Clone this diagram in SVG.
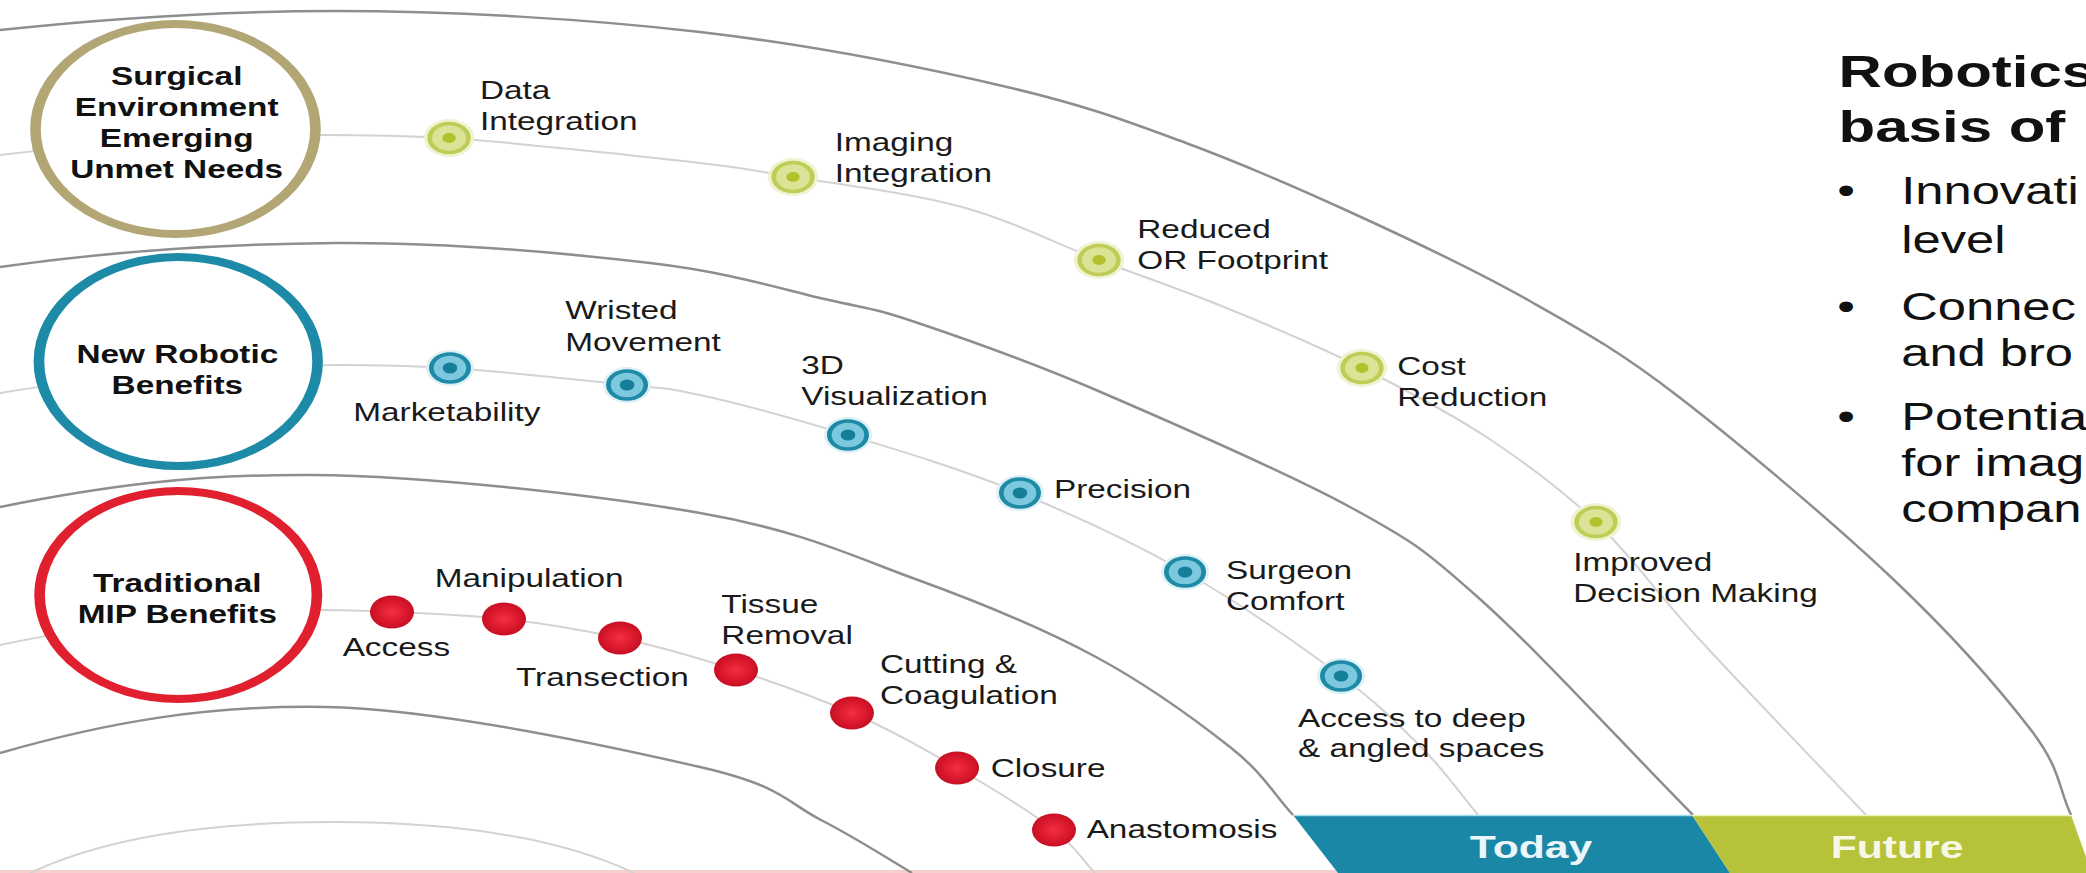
<svg xmlns="http://www.w3.org/2000/svg" width="2086" height="873" viewBox="0 0 2086 873">
<defs>
<radialGradient id="redGrad" cx="50%" cy="50%" r="50%">
<stop offset="0" stop-color="#f3303f"/>
<stop offset="0.6" stop-color="#dc1a2e"/>
<stop offset="1" stop-color="#c70f24"/>
</radialGradient>
</defs>
<style>
.dark{fill:none;stroke:#8e8e8e;stroke-width:2.5}
.light{fill:none;stroke:#d2d2d2;stroke-width:2}
.big{fill:#fff;stroke-width:8}
.bt{font-family:"Liberation Sans",Arial,sans-serif;font-weight:bold;font-size:25px;fill:#111;text-anchor:middle}
.lb{font-family:"Liberation Sans",Arial,sans-serif;font-size:25px;fill:#1a1a1a}
.gh{fill:#eef3d2}
.gr{fill:#dbe496;stroke:#bfcc55;stroke-width:3.5}
.gc{fill:#b2c12c}
.bh{fill:#dcf0f6}
.br{fill:#7cc8de;stroke:#1e8aa6;stroke-width:3.5}
.bc{fill:#157e99}
.rd{fill:url(#redGrad)}
.hd{font-family:"Liberation Sans",Arial,sans-serif;font-weight:bold;font-size:45px;fill:#111}
.bl{font-family:"Liberation Sans",Arial,sans-serif;font-size:38px;fill:#111}
.band{font-family:"Liberation Sans",Arial,sans-serif;font-weight:bold;font-size:32px;text-anchor:middle}
</style>
<rect x="0" y="0" width="2086" height="873" fill="#fff"/>
<rect x="0" y="870" width="1340" height="3" fill="#f8cfcf"/>
<g id="connectors">
<path class="dark" d="M0,30 C112,18 218,11 335,11 S588,19 700,32 S926,68 1007,87 S1129,122 1186,143 S1293,186 1350,212 S1473,269 1528,300 S1618,350 1679,397 S1835,524 1894,580 S2001,691 2031,730 S2058,787 2071,815"/>
<path class="light" d="M0,155 C107,142 245,135 321,135 C364,135 410,136 449,138 S643,156.5 700,163 S749,170 793,177 S911,193 962,207 S1054.5,243 1099,260 S1185,291 1229,309 S1318,346 1362,368 S1452,414 1491,440 S1561,489 1596,522 S1655,591 1700,640 S1811,757 1866,815"/>
<path class="dark" d="M0,267 C112,251 227,244 335,243 S568,253.5 650,263 S784,290 829,300 S873.5,308 918,323 S1024,359 1096,390 S1286,472 1350,507 S1424,549 1481,600 S1622,743 1693,815"/>
<path class="light" d="M0,393 C113,374 265,365 340,365 C376,365 415,366 450,368 S585,380.5 627,385 S663,387 700,395 S795,419 848,435 S964,470 1020,493 S1131.5,541.5 1185,572 S1302,647 1341,676 S1398,724 1421,747 S1459,792 1478,815"/>
<path class="dark" d="M0,507 C104,486 195,474 312,475 S599,495.5 700,513 S852,556 918,580 S1044,629 1096,657 S1197,721 1230,747 S1272,792 1293,815"/>
<path class="light" d="M0,645 C107,622 250,610 320,610 C345,610 370,611 392,612 S466,615 504,619 S581,629.5 620,638 S697,657.5 736,670 S815,697 852,713 S923,748.5 957,768 S1031,812.5 1054,830 S1081,859 1095,873"/>
<path class="dark" d="M0,753 C108,722 208,705 325,707 S617,748 700,767 S786,802 821,820 S882,855 912,873"/>
<path class="light" d="M30,873 C110,835 220,822 332,822 S554,835 634,873"/>
</g>
<g transform="scale(1.3333,1)">
<g id="surgical-environment">
<circle cx="131.6" cy="129" r="105" class="big" stroke="#b3a675"/>
<text class="bt" x="132.5" y="85">Surgical</text>
<text class="bt" x="132.5" y="116">Environment</text>
<text class="bt" x="132.5" y="147">Emerging</text>
<text class="bt" x="132.5" y="178">Unmet Needs</text>
</g>
<g id="new-robotic-benefits">
<circle cx="133.7" cy="361.5" r="104.5" class="big" stroke="#1d8ba8"/>
<text class="bt" x="133" y="363">New Robotic</text>
<text class="bt" x="133" y="394">Benefits</text>
</g>
<g id="traditional-mip-benefits">
<circle cx="133.7" cy="595" r="104" class="big" stroke="#e1202f"/>
<text class="bt" x="133" y="592">Traditional</text>
<text class="bt" x="133" y="623">MIP Benefits</text>
</g>
<g id="data-integration">
<circle cx="336.8" cy="138" r="19" class="gh"/><circle cx="336.8" cy="138" r="14.5" class="gr"/><circle cx="336.8" cy="138" r="5" class="gc"/>
<text class="lb" x="360" y="99">Data</text><text class="lb" x="360" y="130">Integration</text>
</g>
<g id="imaging-integration">
<circle cx="594.8" cy="177" r="19" class="gh"/><circle cx="594.8" cy="177" r="14.5" class="gr"/><circle cx="594.8" cy="177" r="5" class="gc"/>
<text class="lb" x="626" y="151">Imaging</text><text class="lb" x="626" y="182">Integration</text>
</g>
<g id="reduced-or-footprint">
<circle cx="824.3" cy="260" r="19" class="gh"/><circle cx="824.3" cy="260" r="14.5" class="gr"/><circle cx="824.3" cy="260" r="5" class="gc"/>
<text class="lb" x="853" y="238">Reduced</text><text class="lb" x="853" y="269">OR Footprint</text>
</g>
<g id="cost-reduction">
<circle cx="1021.5" cy="368" r="19" class="gh"/><circle cx="1021.5" cy="368" r="14.5" class="gr"/><circle cx="1021.5" cy="368" r="5" class="gc"/>
<text class="lb" x="1048" y="375">Cost</text><text class="lb" x="1048" y="406">Reduction</text>
</g>
<g id="improved-decision-making">
<circle cx="1197" cy="522" r="19" class="gh"/><circle cx="1197" cy="522" r="14.5" class="gr"/><circle cx="1197" cy="522" r="5" class="gc"/>
<text class="lb" x="1180" y="571">Improved</text><text class="lb" x="1180" y="602">Decision Making</text>
</g>
<g id="marketability">
<circle cx="337.5" cy="368" r="18" class="bh"/><circle cx="337.5" cy="368" r="14" class="br"/><circle cx="337.5" cy="368" r="5.5" class="bc"/>
<text class="lb" x="265" y="421">Marketability</text>
</g>
<g id="wristed-movement">
<circle cx="470.3" cy="385" r="18" class="bh"/><circle cx="470.3" cy="385" r="14" class="br"/><circle cx="470.3" cy="385" r="5.5" class="bc"/>
<text class="lb" x="424" y="319">Wristed</text><text class="lb" x="424" y="351">Movement</text>
</g>
<g id="visualization-3d">
<circle cx="636" cy="435" r="18" class="bh"/><circle cx="636" cy="435" r="14" class="br"/><circle cx="636" cy="435" r="5.5" class="bc"/>
<text class="lb" x="601" y="374">3D</text><text class="lb" x="601" y="405">Visualization</text>
</g>
<g id="precision">
<circle cx="765" cy="493" r="18" class="bh"/><circle cx="765" cy="493" r="14" class="br"/><circle cx="765" cy="493" r="5.5" class="bc"/>
<text class="lb" x="790.5" y="498">Precision</text>
</g>
<g id="surgeon-comfort">
<circle cx="888.8" cy="572" r="18" class="bh"/><circle cx="888.8" cy="572" r="14" class="br"/><circle cx="888.8" cy="572" r="5.5" class="bc"/>
<text class="lb" x="919.5" y="579">Surgeon</text><text class="lb" x="919.5" y="610">Comfort</text>
</g>
<g id="access-deep-spaces">
<circle cx="1005.8" cy="676" r="18" class="bh"/><circle cx="1005.8" cy="676" r="14" class="br"/><circle cx="1005.8" cy="676" r="5.5" class="bc"/>
<text class="lb" x="973.5" y="727">Access to deep</text><text class="lb" x="973.5" y="757">&amp; angled spaces</text>
</g>
<g id="access">
<circle cx="294" cy="612" r="16.5" class="rd"/>
<text class="lb" x="257" y="656">Access</text>
</g>
<g id="manipulation">
<circle cx="378" cy="619" r="16.5" class="rd"/>
<text class="lb" x="326" y="587">Manipulation</text>
</g>
<g id="transection">
<circle cx="465" cy="638" r="16.5" class="rd"/>
<text class="lb" x="387" y="686">Transection</text>
</g>
<g id="tissue-removal">
<circle cx="552" cy="670" r="16.5" class="rd"/>
<text class="lb" x="541" y="613">Tissue</text><text class="lb" x="541" y="644">Removal</text>
</g>
<g id="cutting-coagulation">
<circle cx="639" cy="713" r="16.5" class="rd"/>
<text class="lb" x="660" y="673">Cutting &amp;</text><text class="lb" x="660" y="704">Coagulation</text>
</g>
<g id="closure">
<circle cx="717.8" cy="768" r="16.5" class="rd"/>
<text class="lb" x="743" y="777">Closure</text>
</g>
<g id="anastomosis">
<circle cx="790.5" cy="830" r="16.5" class="rd"/>
<text class="lb" x="815" y="838">Anastomosis</text>
</g>
<g id="robotics-text">
<text class="hd" x="1379" y="87">Robotics</text>
<text class="hd" x="1379" y="142">basis of</text>
<text class="bl" x="1378" y="204">•</text><text class="bl" x="1426" y="204">Innovati</text>
<text class="bl" x="1426" y="253">level</text>
<text class="bl" x="1378" y="320">•</text><text class="bl" x="1426" y="320">Connec</text>
<text class="bl" x="1426" y="366">and bro</text>
<text class="bl" x="1378" y="430">•</text><text class="bl" x="1426" y="430">Potentia</text>
<text class="bl" x="1426" y="476">for imag</text>
<text class="bl" x="1426" y="522">compan</text>
</g>
</g>
<g id="today-band">
<polygon points="1293,815 1692,815 1730,873 1338,873" fill="#1b87a7"/>
<line x1="1293" y1="815.5" x2="1692" y2="815.5" stroke="#9fdcec" stroke-width="1.5"/>
<text class="band" transform="translate(1531,858) scale(1.3333,1)" fill="#eaf6fa">Today</text>
</g>
<g id="future-band">
<polygon points="1692,815 2071,815 2086,857 2086,873 1730,873" fill="#b6c23a"/>
<line x1="1692" y1="815.5" x2="2071" y2="815.5" stroke="#eef2b8" stroke-width="1.5"/>
<text class="band" transform="translate(1897,858) scale(1.3333,1)" fill="#f6f8e4">Future</text>
</g>
</svg>
